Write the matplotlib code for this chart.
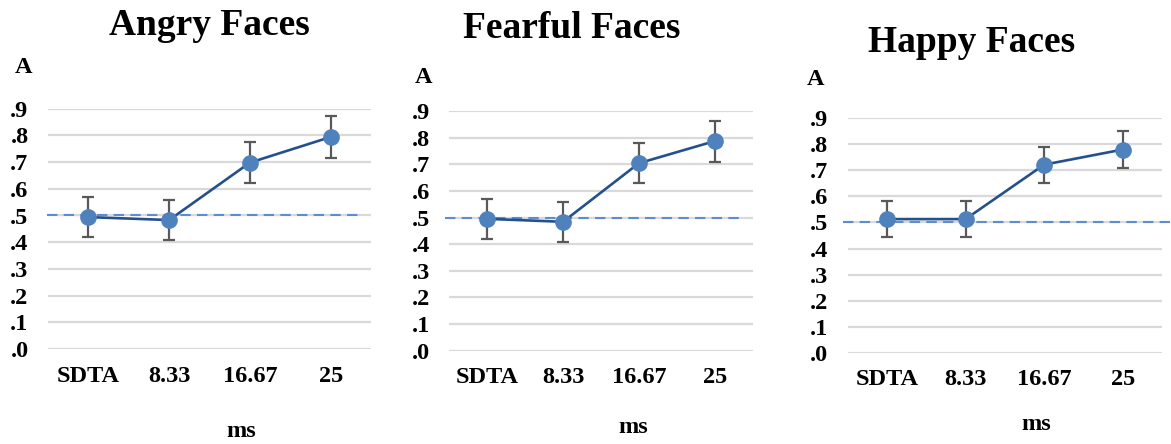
import matplotlib
matplotlib.use("Agg")
import matplotlib.pyplot as plt
from matplotlib.ticker import FuncFormatter

plt.rcParams["font.family"] = "Liberation Serif"
plt.rcParams["font.weight"] = "bold"

categories = ["SDTA", "8.33", "16.67", "25"]
titles = ["Angry Faces", "Fearful Faces", "Happy Faces"]

angry_mean = [0.494, 0.483, 0.698, 0.794]
angry_err = [0.076, 0.076, 0.076, 0.077]
fearful_mean = [0.495, 0.484, 0.704, 0.787]
fearful_err = [0.076, 0.076, 0.076, 0.077]
happy_mean = [0.513, 0.513, 0.722, 0.780]
happy_err = [0.069, 0.069, 0.069, 0.070]

chance = 0.5
yticks = [0.0, 0.1, 0.2, 0.3, 0.4, 0.5, 0.6, 0.7, 0.8, 0.9]

W, H = 1171, 444
fig = plt.figure(figsize=(W / 100, H / 100), dpi=100)

# pixel layout of each panel: grid left/right, y of .0 and .9 lines
panels = [
    dict(x0=48, x1=371, y0=349, y9=108.7, title=(209, 35), a=(24, 73), ms=(241, 437), dash=(-0.003, 0.975)),
    dict(x0=449.3, x1=752.7, y0=350.7, y9=111, title=(572, 38), a=(424, 83), ms=(633, 433), dash=(-0.014, 0.968)),
    dict(x0=847.7, x1=1162, y0=352.7, y9=118.3, title=(972, 52), a=(816, 85), ms=(1036, 430), dash=(-0.015, 1.03)),
]
means = [angry_mean, fearful_mean, happy_mean]
errs = [angry_err, fearful_err, happy_err]

for p, title, m, e in zip(panels, titles, means, errs):
    ax = fig.add_axes([p["x0"] / W, 1 - p["y0"] / H, (p["x1"] - p["x0"]) / W, (p["y0"] - p["y9"]) / H])
    x = range(len(categories))
    ax.errorbar(x, m, yerr=e, fmt="none", ecolor="#595959", elinewidth=1.6, capsize=4.5, capthick=1.6, zorder=3)
    ax.plot(x, m, color="#24508C", lw=1.9, zorder=4)
    ax.plot(x, m, "o", color="#4F81BD", ms=11, zorder=5, clip_on=False)
    ax.axhline(chance, xmin=p["dash"][0], xmax=p["dash"][1], color="#5B8DD0", lw=1.5,
               ls=(0, (5, 3)), zorder=2, clip_on=False)

    ax.set_xlim(-0.5, 3.5)
    ax.set_ylim(0, 0.9)
    ax.set_yticks(yticks)
    ax.yaxis.set_major_formatter(FuncFormatter(lambda v, _: f".{int(round(v * 10))}"))
    ax.set_xticks(list(x))
    ax.set_xticklabels(categories)
    ax.tick_params(axis="y", length=0, pad=14, labelsize=17.5)
    ax.tick_params(axis="x", length=0, pad=12, labelsize=17.5)
    ax.grid(axis="y", color="#D9D9D9", lw=1.6)
    ax.set_axisbelow(True)
    for s in ax.spines.values():
        s.set_visible(False)

    fig.text(p["title"][0] / W, 1 - p["title"][1] / H, title, ha="center", va="baseline",
             fontsize=27, fontweight="bold")
    fig.text(p["a"][0] / W, 1 - p["a"][1] / H, "A", ha="center", va="baseline",
             fontsize=17.5, fontweight="bold")
    fig.text(p["ms"][0] / W, 1 - p["ms"][1] / H, "ms", ha="center", va="baseline",
             fontsize=17.5, fontweight="bold")

fig.savefig("out.png", dpi=100)
